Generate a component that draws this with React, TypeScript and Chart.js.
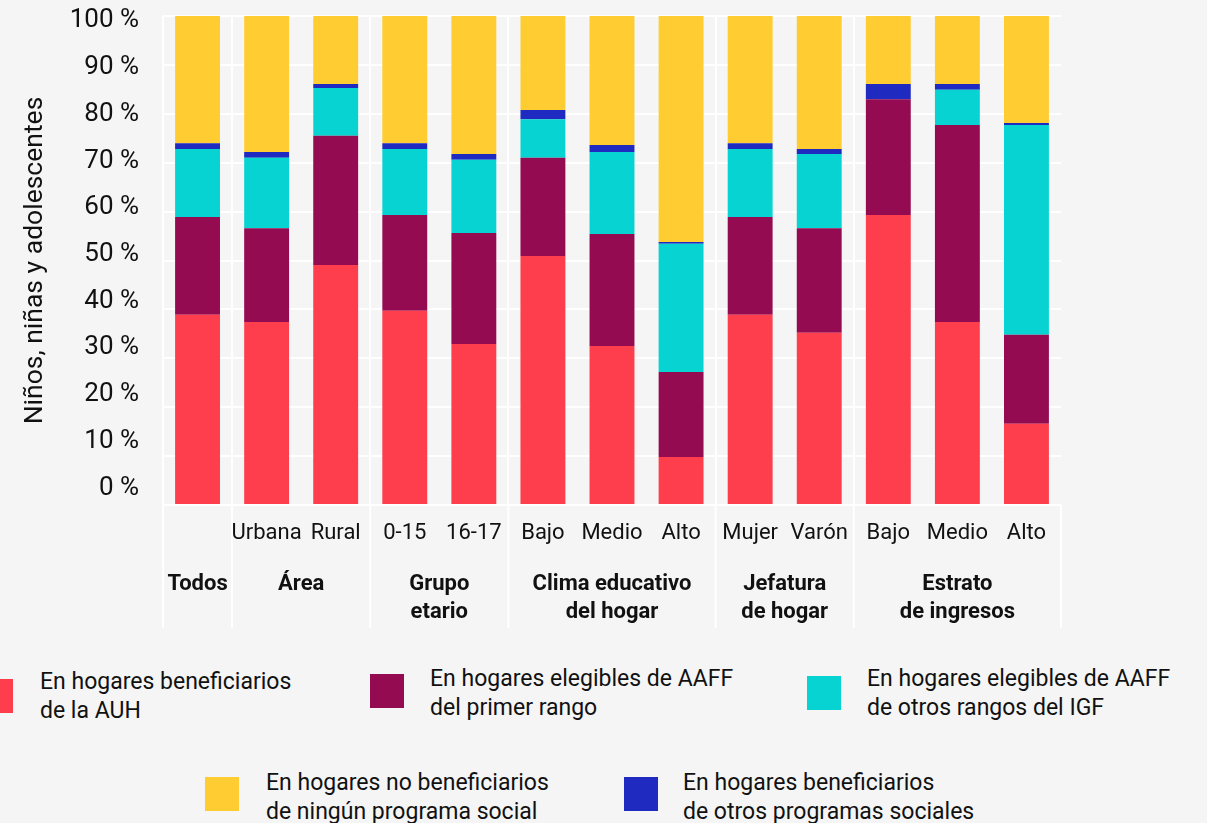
import React, { useEffect, useRef } from "react";
import { Chart, registerables } from "chart.js";

Chart.register(...registerables);

// ---- Data ----
const categories = ["", "Urbana", "Rural", "0-15", "16-17", "Bajo", "Medio", "Alto", "Mujer", "Varón", "Bajo", "Medio", "Alto"];
const groupLabels: string[][] = [
  ["Todos"],
  ["Área"],
  ["Grupo", "etario"],
  ["Clima educativo", "del hogar"],
  ["Jefatura", "de hogar"],
  ["Estrato", "de ingresos"],
];
const groupSizes = [1, 2, 2, 3, 2, 3];

const auh = [38.9, 37.4, 49.1, 39.7, 32.9, 50.9, 32.5, 9.8, 38.9, 35.2, 59.3, 37.4, 16.6];
const primerRango = [20.0, 19.2, 26.4, 19.6, 22.7, 20.1, 22.9, 17.4, 20.0, 21.4, 23.7, 40.3, 18.2];
const otrosRangos = [13.9, 14.4, 9.8, 13.5, 15.0, 7.9, 16.8, 26.2, 13.9, 15.2, 0, 7.2, 42.9];
const otrosProgramas = [1.2, 1.2, 0.8, 1.2, 1.2, 1.9, 1.4, 0.4, 1.2, 1.0, 3.1, 1.2, 0.4];
const ninguno = [26.0, 27.8, 13.9, 26.0, 28.2, 19.2, 26.4, 46.2, 26.0, 27.4, 13.9, 13.9, 21.9];

const yTickValues = [0, 10, 20, 30, 40, 50, 60, 70, 80, 90, 100];
const yTitle = "Niños, niñas y adolescentes";

const seriesNames = [
  ["En hogares beneficiarios", "de la AUH"],
  ["En hogares elegibles de AAFF", "del primer rango"],
  ["En hogares elegibles de AAFF", "de otros rangos del IGF"],
  ["En hogares beneficiarios", "de otros programas sociales"],
  ["En hogares no beneficiarios", "de ningún programa social"],
];
const seriesColors = ["#fe3e4d", "#950b52", "#06d3d2", "#1f2bc0", "#ffcd32"];
const seriesValues = [auh, primerRango, otrosRangos, otrosProgramas, ninguno];

// ---- Styling ----
const BG = "#f5f5f5";
const TEXT = "#111111";
const FONT = "Roboto, 'Noto Sans', sans-serif";

// group boundaries / centres derived from group sizes
const groupBounds: number[] = [0];
groupSizes.forEach((s) => groupBounds.push(groupBounds[groupBounds.length - 1] + s));
const groupCenters = groupSizes.map((s, i) => groupBounds[i] + (s - 1) / 2);

const separatorPlugin = {
  id: "groupSeparators",
  afterDraw(chart: any) {
    const xs = chart.scales.x;
    const { ctx, chartArea } = chart;
    ctx.save();
    ctx.strokeStyle = "#ffffff";
    ctx.lineWidth = 2;
    groupBounds.forEach((b) => {
      const px = xs.getPixelForValue(b - 0.5);
      ctx.beginPath();
      ctx.moveTo(px, chartArea.bottom);
      ctx.lineTo(px, chartArea.bottom + 123);
      ctx.stroke();
    });
    ctx.restore();
  },
};

const zeroPad = (scale: any) => {
  scale.paddingTop = 0;
  scale.paddingBottom = 0;
  scale.paddingLeft = 0;
  scale.paddingRight = 0;
};

const legendLayout = [
  { sq: [-21, 679], tx: [40, 667] },
  { sq: [370, 674], tx: [430, 664] },
  { sq: [807, 676], tx: [867, 664] },
  { sq: [624, 777], tx: [683, 768] },
  { sq: [205, 777], tx: [266, 768] },
];

export default function App() {
  const canvasRef = useRef<HTMLCanvasElement | null>(null);

  useEffect(() => {
    document.body.style.margin = "0";
    document.body.style.background = BG;
    const canvas = canvasRef.current;
    if (!canvas) return;
    Chart.defaults.font.family = FONT;
    Chart.defaults.color = TEXT;

    const chart = new Chart(canvas, {
      type: "bar",
      data: {
        labels: categories,
        datasets: seriesValues.map((vals, i) => ({
          label: seriesNames[i].join(" "),
          data: vals,
          backgroundColor: seriesColors[i],
          borderWidth: 0,
          categoryPercentage: 1,
          barPercentage: 0.65,
          stack: "s",
        })),
      },
      options: {
        responsive: false,
        animation: false,
        layout: { padding: { top: 16, right: 146, left: 0, bottom: 0 } },
        plugins: {
          legend: { display: false },
          tooltip: { enabled: false },
        },
        scales: {
          x: {
            stacked: true,
            weight: 0,
            grid: {
              display: true,
              drawTicks: false,
              lineWidth: 2,
              color: (ctx: any) => (groupBounds.includes(ctx.index) ? "#ffffff" : "rgba(0,0,0,0)"),
            },
            border: { display: false },
            ticks: {
              autoSkip: false,
              maxRotation: 0,
              padding: 15,
              color: TEXT,
              font: { size: 22, family: FONT },
            },
            afterFit: (scale: any) => {
              scale.height = 42;
              zeroPad(scale);
            },
          },
          x2: {
            type: "linear",
            position: "bottom",
            weight: 1,
            offset: false,
            min: -0.5,
            max: categories.length - 0.5,
            grid: { display: false, offset: false },
            border: { display: false },
            afterBuildTicks: (scale: any) => {
              scale.ticks = groupCenters.map((v) => ({ value: v }));
            },
            ticks: {
              autoSkip: false,
              maxRotation: 0,
              padding: 16,
              color: TEXT,
              font: { size: 22, weight: "bold", family: FONT, lineHeight: 1.27 },
              callback: (_v: any, index: number) => groupLabels[index],
            },
            afterFit: (scale: any) => {
              scale.height = 93;
              zeroPad(scale);
            },
          },
          y: {
            stacked: true,
            min: 0,
            max: 100,
            weight: 0,
            ticks: { display: false, stepSize: 10 },
            grid: { color: "#ffffff", lineWidth: 2, drawTicks: false },
            border: { display: false },
            afterFit: (scale: any) => {
              scale.width = 0;
              zeroPad(scale);
            },
          },
          yl: {
            type: "linear",
            position: "left",
            weight: 1,
            min: -3.64,
            max: 101.07,
            grid: { display: false },
            border: { display: false },
            afterBuildTicks: (scale: any) => {
              scale.ticks = yTickValues.map((v) => ({ value: v }));
            },
            ticks: {
              padding: 16,
              color: TEXT,
              font: { size: 26, family: FONT },
              callback: (v: any) => `${v} %`,
            },
            title: {
              display: true,
              text: yTitle,
              color: TEXT,
              font: { size: 26.5, family: FONT },
              padding: { top: 19, bottom: 0 },
            },
            afterFit: (scale: any) => {
              scale.width = 163;
              zeroPad(scale);
            },
          },
        },
      } as any,
      plugins: [separatorPlugin],
    });

    return () => chart.destroy();
  }, []);

  return (
    <div style={{ position: "relative", width: 1207, height: 823, background: BG, overflow: "hidden", fontFamily: FONT }}>
      <canvas ref={canvasRef} width={1207} height={640} style={{ position: "absolute", left: 0, top: 0, display: "block" }} />
      {seriesNames.map((lines, i) => (
        <React.Fragment key={i}>
          <div
            style={{
              position: "absolute",
              left: legendLayout[i].sq[0],
              top: legendLayout[i].sq[1],
              width: 34,
              height: 34,
              background: seriesColors[i],
            }}
          />
          <div
            style={{
              position: "absolute",
              left: legendLayout[i].tx[0],
              top: legendLayout[i].tx[1],
              fontSize: 23,
              lineHeight: "29px",
              color: TEXT,
              whiteSpace: "nowrap",
            }}
          >
            {lines.map((l, j) => (
              <div key={j}>{l}</div>
            ))}
          </div>
        </React.Fragment>
      ))}
    </div>
  );
}
